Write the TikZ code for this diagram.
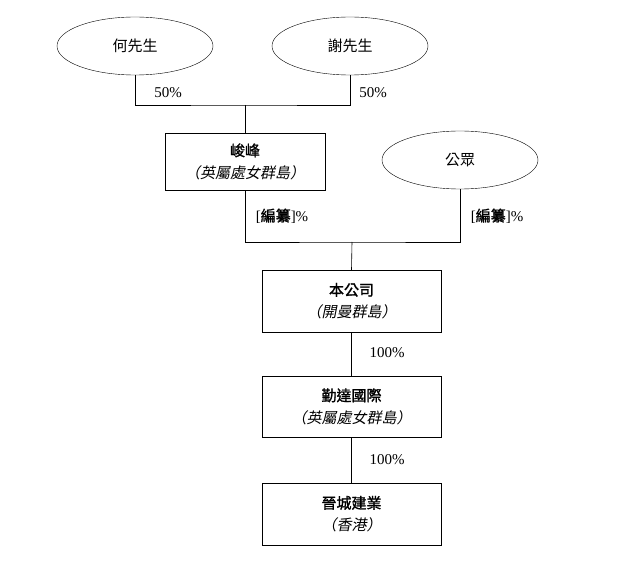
\documentclass[tikz,border=0pt]{standalone}
\usepackage{fontspec}
\setmainfont{Liberation Serif}
\newfontfamily\cjk{Noto Sans CJK TC}
\newfontfamily\cjkb{Noto Sans CJK TC}[FakeBold=1.5]
\newfontfamily\cjkit{Noto Sans CJK TC}[FakeSlant=0.2]
\usetikzlibrary{shapes.geometric}
\begin{document}
\begin{tikzpicture}[x=1pt,y=-1pt,
  ell/.style={draw,ellipse,minimum width=156pt,minimum height=58pt,font=\cjk\fontsize{15}{17}\selectfont},
  box/.style={draw,rectangle,align=center,font=\fontsize{15}{22}\selectfont},
  lbl/.style={font=\fontsize{15}{17}\selectfont},
  line/.style={draw,line width=0.6pt}]
\useasboundingbox (0,0) rectangle (640,585);
\node[ell] (he) at (135,46) {何先生};
\node[ell] (xie) at (350,46) {謝先生};
\node[ell] (pub) at (460,160) {公眾};
\node[box,minimum width=160pt,minimum height=57pt] (jf) at (245,161.5) {{\cjkb 峻峰}\\{\cjkit （英屬處女群島）}};
\node[box,minimum width=179pt,minimum height=62pt] (co) at (351.5,301) {{\cjkb 本公司}\\{\cjkit （開曼群島）}};
\node[box,minimum width=179pt,minimum height=61pt] (qd) at (351.5,406.5) {{\cjkb 勤達國際}\\{\cjkit （英屬處女群島）}};
\node[box,minimum width=179pt,minimum height=62pt] (jc) at (351.5,514) {{\cjkb 晉城建業}\\{\cjkit （香港）}};
\coordinate (j1) at (245,105);
\coordinate (j2) at (352,242);
\draw[line] (he.south) |- (j1) -| (xie.south);
\draw[line] (j1) -- (jf.north);
\draw[line] (jf.south) |- (j2) -| (pub.south);
\draw[line] (j2) -- (co.north);
\draw[line] (co) -- (qd);
\draw[line] (qd) -- (jc);
\node[lbl] at (168,93) {50\%};
\node[lbl] at (373,93) {50\%};
\node[lbl] at (282,216) {[{\cjkb 編纂}]\%};
\node[lbl] at (497,216) {[{\cjkb 編纂}]\%};
\node[lbl] at (387,353) {100\%};
\node[lbl] at (387,460) {100\%};
\end{tikzpicture}
\end{document}
